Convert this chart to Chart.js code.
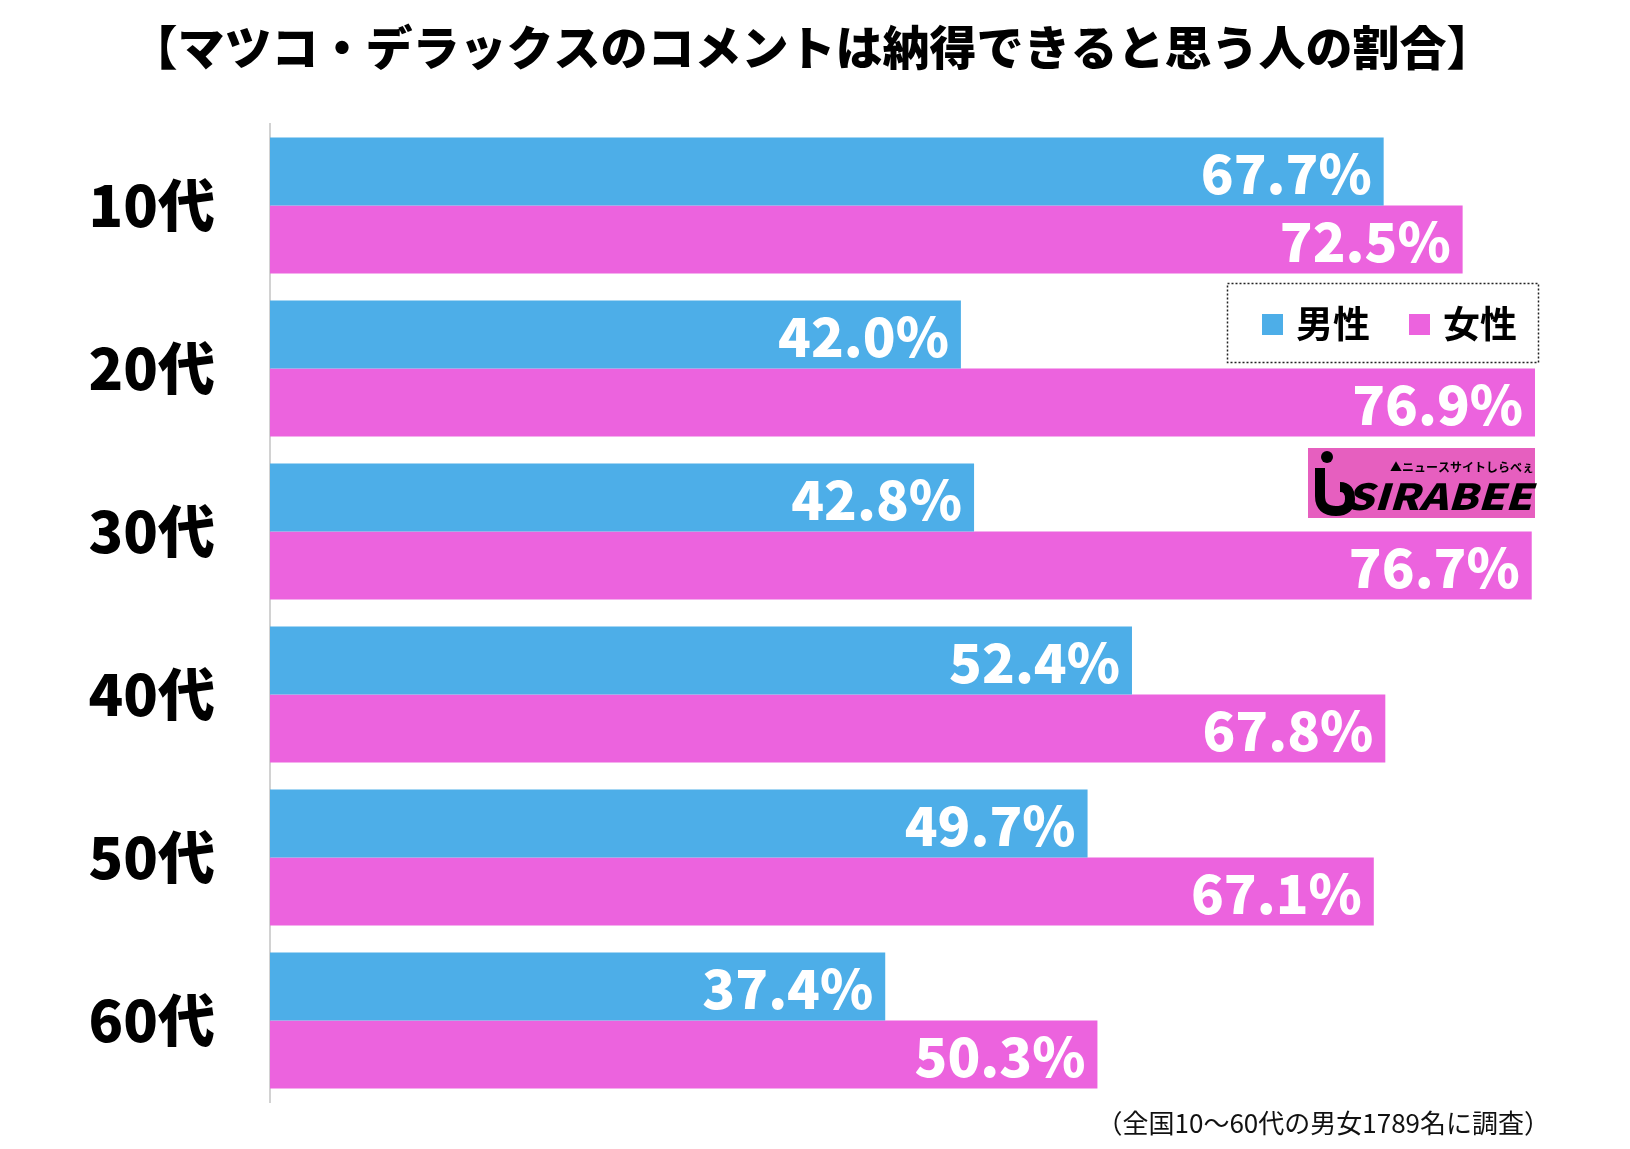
<!DOCTYPE html>
<html>
<head>
<meta charset="utf-8">
<script src="https://cdn.jsdelivr.net/npm/chart.js@4.4.1/dist/chart.umd.min.js"></script>
<style>
  html, body { margin: 0; padding: 0; background: #fff; }
  #wrap { position: relative; width: 1630px; height: 1149px; }
</style>
</head>
<body>
<div id="wrap"><canvas id="ageChart"></canvas></div>
<script>
// --- data ---
const ageGroups = ["10代", "20代", "30代", "40代", "50代", "60代"];
const maleValues = [67.7, 42.0, 42.8, 52.4, 49.7, 37.4];
const femaleValues = [72.5, 76.9, 76.7, 67.8, 67.1, 50.3];
const seriesNames = ["男性", "女性"];
const chartTitle = "【マツコ・デラックスのコメントは納得できると思う人の割合】";
const footNote = "（全国10〜60代の男女1789名に調査）";

const BLUE = "#4daee8";
const PINK = "#ec63de";
const JP = '"Noto Sans CJK JP", "Noto Sans", sans-serif';

// title, footnote, legend box and logo
const decorPlugin = {
  id: "decor",
  afterDraw(chart) {
    const ctx = chart.ctx;
    ctx.save();

    // title
    ctx.fillStyle = "#000";
    ctx.font = "900 47px " + JP;
    ctx.textAlign = "center";
    ctx.textBaseline = "middle";
    ctx.fillText(chartTitle, 812, 47);

    // footnote
    ctx.font = "400 26px " + JP;
    ctx.textAlign = "right";
    ctx.fillStyle = "#111";
    ctx.fillText(footNote, 1550, 1123);

    // legend
    ctx.fillStyle = "#fff";
    ctx.fillRect(1227, 283, 312, 80);
    ctx.setLineDash([2, 2]);
    ctx.lineWidth = 1.5;
    ctx.strokeStyle = "#222";
    ctx.strokeRect(1227.5, 283.5, 311, 79);
    ctx.setLineDash([]);
    const items = [
      { x: 1262, color: BLUE, name: seriesNames[0] },
      { x: 1409, color: PINK, name: seriesNames[1] },
    ];
    ctx.font = "700 37px " + JP;
    ctx.textAlign = "left";
    ctx.textBaseline = "middle";
    items.forEach((it) => {
      ctx.fillStyle = it.color;
      ctx.fillRect(it.x, 314, 21, 21);
      ctx.fillStyle = "#000";
      ctx.fillText(it.name, it.x + 34, 324);
    });

    // logo
    ctx.fillStyle = "#e65fbf";
    ctx.fillRect(1308, 448, 227, 70);
    ctx.fillStyle = "#000";
    ctx.beginPath();
    ctx.arc(1327, 457, 6, 0, Math.PI * 2);
    ctx.fill();
    ctx.lineWidth = 10;
    ctx.strokeStyle = "#000";
    ctx.beginPath();
    ctx.moveTo(1320, 468);
    ctx.lineTo(1320, 496);
    ctx.quadraticCurveTo(1320, 511, 1336, 511);
    ctx.quadraticCurveTo(1350, 511, 1350, 499);
    ctx.quadraticCurveTo(1350, 487, 1340, 487);
    ctx.stroke();
    ctx.font = "italic 900 36px " + JP;
    const w = ctx.measureText("SIRABEE").width;
    ctx.translate(1346, 496);
    ctx.scale(186 / w, 1);
    ctx.textBaseline = "middle";
    ctx.fillText("SIRABEE", 0, 0);
    ctx.setTransform(1, 0, 0, 1, 0, 0);
    ctx.font = "700 12px " + JP;
    ctx.fillText("▲ニュースサイトしらべぇ", 1390, 467);

    ctx.restore();
  },
};

// white value labels at bar ends
const valueLabelPlugin = {
  id: "valueLabels",
  afterDatasetsDraw(chart) {
    const ctx = chart.ctx;
    ctx.save();
    ctx.fillStyle = "#fff";
    ctx.font = "900 54px " + JP;
    ctx.textAlign = "right";
    ctx.textBaseline = "middle";
    chart.data.datasets.forEach((ds, i) => {
      chart.getDatasetMeta(i).data.forEach((bar, j) => {
        ctx.fillText(ds.data[j].toFixed(1) + "%", bar.x - 12, bar.y + 2);
      });
    });
    ctx.restore();
  },
};

new Chart(document.getElementById("ageChart"), {
  type: "bar",
  data: {
    labels: ageGroups,
    datasets: [
      { label: seriesNames[0], data: maleValues, backgroundColor: BLUE },
      { label: seriesNames[1], data: femaleValues, backgroundColor: PINK },
    ],
  },
  options: {
    indexAxis: "y",
    responsive: true,
    maintainAspectRatio: false,
    animation: false,
    layout: { padding: { left: 0, right: 44, top: 124, bottom: 47 } },
    datasets: { bar: { barPercentage: 1, categoryPercentage: 0.835 } },
    plugins: {
      legend: { display: false },
      title: { display: false },
      tooltip: { enabled: false },
    },
    scales: {
      x: { min: 0, max: 80, display: false },
      y: {
        grid: { display: false },
        border: { display: true, color: "#d2d2d2", width: 2 },
        ticks: {
          color: "#000",
          padding: 47,
          font: { family: JP, size: 57, weight: "900" },
        },
        afterFit(scale) {
          scale.width = 270;
          scale.paddingTop = 0;
          scale.paddingBottom = 0;
        },
      },
    },
  },
  plugins: [valueLabelPlugin, decorPlugin],
});
</script>
</body>
</html>
